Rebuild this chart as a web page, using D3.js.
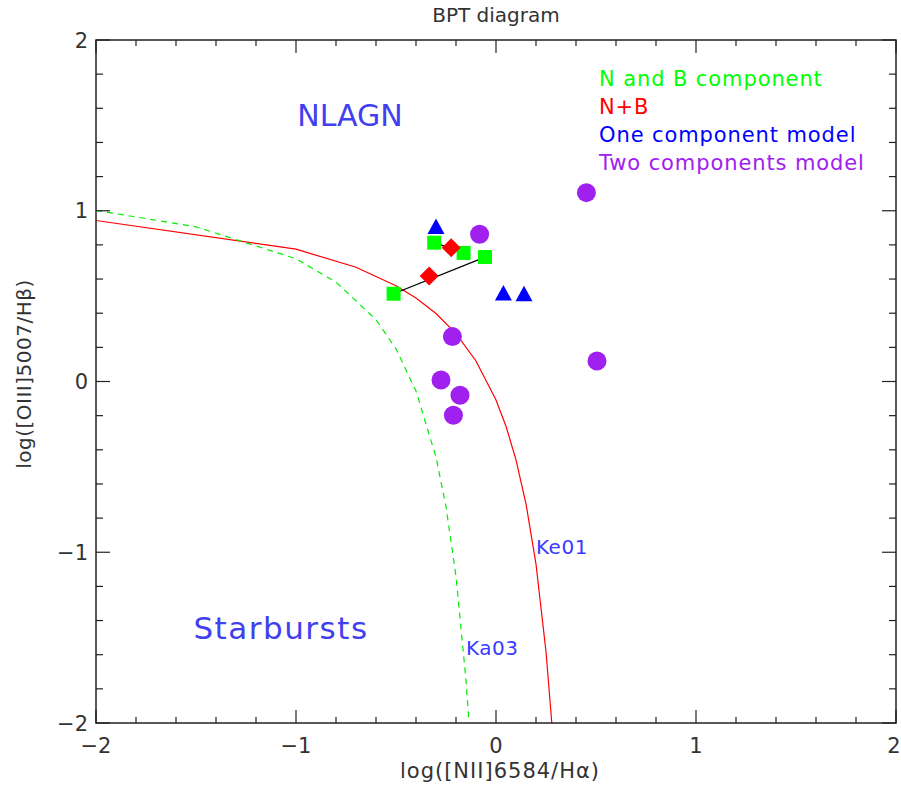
<!DOCTYPE html>
<html>
<head>
<meta charset="utf-8">
<script src="https://cdn.jsdelivr.net/npm/d3@7"></script>
<style>
  body { margin: 0; background: #fff; }
  text { font-family: "DejaVu Sans", sans-serif; }
</style>
</head>
<body>
<svg id="chart" width="901" height="792"></svg>
<script>
// N and B components, one pair per source: [logNII/Ha, logOIII/Hb]
var nbPairs = [
    [[-0.309, 0.813], [-0.162, 0.753]],
    [[-0.512, 0.514], [-0.055, 0.729]]
];
// N+B combined values
var nPlusB = [[-0.224, 0.784], [-0.334, 0.618]];
// one component model
var oneComp = [[-0.300, 0.905], [0.037, 0.516], [0.140, 0.511]];
// two components model
var twoComp = [[-0.082, 0.862], [0.452, 1.106], [0.505, 0.120], [-0.218, 0.263],
               [-0.275, 0.009], [-0.180, -0.081], [-0.213, -0.198]];

// demarcation lines as drawn
var ke01 = [[-2, 0.943], [-1, 0.775], [-0.7, 0.669], [-0.5, 0.561], [-0.4, 0.489],
            [-0.3, 0.398], [-0.2, 0.280], [-0.1, 0.120], [0, -0.108], [0.05, -0.262],
            [0.1, -0.459], [0.15, -0.716], [0.2, -1.069], [0.25, -1.583], [0.279, -2]];
var ka03 = [[-2, 1.002], [-1.5, 0.906], [-1, 0.719], [-0.8, 0.582], [-0.6, 0.362],
            [-0.5, 0.191], [-0.4, -0.056], [-0.3, -0.443], [-0.25, -0.733],
            [-0.2, -1.14], [-0.15, -1.75], [-0.135, -2]];

var xTicks = [-2, -1, 0, 1, 2];
var yTicks = [-2, -1, 0, 1, 2];
var legendLabels = ["N and B component", "N+B", "One component model", "Two components model"];
var legendColors = ["#00ff00", "#ff0000", "#0000ff", "#a020f0"];

var svg = d3.select("#chart"),
    plotLeft = 96, plotRight = 896, plotTop = 40, plotBottom = 723;

var x = d3.scaleLinear().domain([-2, 2]).range([plotLeft, plotRight]);
var y = d3.scaleLinear().domain([-2, 2]).range([plotBottom, plotTop]);

var minorX = d3.range(-2, 2.001, 0.2), minorY = d3.range(-2, 2.001, 0.2);

// clip for curves
svg.append("clipPath").attr("id", "clip")
    .append("rect").attr("x", plotLeft).attr("y", plotTop)
    .attr("width", plotRight - plotLeft).attr("height", plotBottom - plotTop);

var line = d3.line()
    .x(function (d) { return x(d[0]); })
    .y(function (d) { return y(d[1]); });

svg.append("path")
    .datum(ke01)
    .attr("clip-path", "url(#clip)")
    .attr("d", line)
    .attr("fill", "none")
    .attr("stroke", "#ff0000")
    .attr("stroke-width", 1.2);

svg.append("path")
    .datum(ka03)
    .attr("clip-path", "url(#clip)")
    .attr("d", line)
    .attr("fill", "none")
    .attr("stroke", "#00ee00")
    .attr("stroke-width", 1.2)
    .attr("stroke-dasharray", "6,5");

// frame and ticks
var axisColor = "#222";
svg.append("rect")
    .attr("x", plotLeft).attr("y", plotTop)
    .attr("width", plotRight - plotLeft).attr("height", plotBottom - plotTop)
    .attr("fill", "none").attr("stroke", axisColor).attr("stroke-width", 1.5);

var tickG = svg.append("g").attr("stroke", axisColor).attr("stroke-width", 1.2);
minorX.forEach(function (v) {
    var major = xTicks.some(function (t) { return Math.abs(t - v) < 1e-6; });
    var len = major ? 13 : 6;
    tickG.append("line").attr("x1", x(v)).attr("x2", x(v)).attr("y1", plotBottom).attr("y2", plotBottom - len);
    tickG.append("line").attr("x1", x(v)).attr("x2", x(v)).attr("y1", plotTop).attr("y2", plotTop + len);
});
minorY.forEach(function (v) {
    var major = yTicks.some(function (t) { return Math.abs(t - v) < 1e-6; });
    var len = major ? 14 : 7;
    tickG.append("line").attr("y1", y(v)).attr("y2", y(v)).attr("x1", plotLeft).attr("x2", plotLeft + len);
    tickG.append("line").attr("y1", y(v)).attr("y2", y(v)).attr("x1", plotRight).attr("x2", plotRight - len);
});

function fmt(v) { return v < 0 ? "\u2212" + Math.abs(v) : String(v); }

svg.append("g").selectAll("text")
    .data(xTicks).enter().append("text")
    .attr("x", function (d) { return d === 2 ? x(d) - 2 : x(d); })
    .attr("y", 753)
    .attr("text-anchor", "middle")
    .attr("font-size", 21)
    .attr("fill", "#333")
    .text(fmt);

svg.append("g").selectAll("text")
    .data(yTicks).enter().append("text")
    .attr("x", 88)
    .attr("y", function (d) { return y(d); })
    .attr("dy", "0.36em")
    .attr("text-anchor", "end")
    .attr("font-size", 21)
    .attr("fill", "#333")
    .text(fmt);

// axis titles
svg.append("text")
    .attr("x", 500).attr("y", 778)
    .attr("text-anchor", "middle")
    .attr("font-size", 21)
    .attr("letter-spacing", 1)
    .attr("fill", "#333")
    .text("log([NII]6584/H\u03b1)");

svg.append("text")
    .attr("transform", "translate(31,374)rotate(-90)")
    .attr("text-anchor", "middle")
    .attr("font-size", 20)
    .attr("letter-spacing", 0.5)
    .attr("fill", "#333")
    .text("log([OIII]5007/H\u03b2)");

svg.append("text")
    .attr("x", 496).attr("y", 22)
    .attr("text-anchor", "middle")
    .attr("font-size", 20)
    .attr("fill", "#333")
    .text("BPT diagram");

// region labels
svg.append("text").attr("x", 350).attr("y", 126).attr("text-anchor", "middle")
    .attr("font-size", 30).attr("fill", "#4040f0").text("NLAGN");
svg.append("text").attr("x", 281).attr("y", 639).attr("text-anchor", "middle")
    .attr("font-size", 31).attr("letter-spacing", 1.5).attr("fill", "#4040f0").text("Starbursts");
svg.append("text").attr("x", 536).attr("y", 554)
    .attr("font-size", 20).attr("letter-spacing", 0.5).attr("fill", "#3a3aff").text("Ke01");
svg.append("text").attr("x", 466).attr("y", 655)
    .attr("font-size", 20).attr("letter-spacing", 0.5).attr("fill", "#3a3aff").text("Ka03");

// connecting lines between N and B components
svg.append("g").selectAll("line")
    .data(nbPairs).enter().append("line")
    .attr("x1", function (d) { return x(d[0][0]); })
    .attr("y1", function (d) { return y(d[0][1]); })
    .attr("x2", function (d) { return x(d[1][0]); })
    .attr("y2", function (d) { return y(d[1][1]); })
    .attr("stroke", "#000")
    .attr("stroke-width", 1.3);

// N and B squares
var nbPoints = [].concat.apply([], nbPairs);
svg.append("g").selectAll("rect")
    .data(nbPoints).enter().append("rect")
    .attr("x", function (d) { return x(d[0]) - 7; })
    .attr("y", function (d) { return y(d[1]) - 7; })
    .attr("width", 14).attr("height", 14)
    .attr("fill", "#00ff00");

// N+B diamonds
svg.append("g").selectAll("path")
    .data(nPlusB).enter().append("path")
    .attr("d", "M0,-9.5L9.5,0L0,9.5L-9.5,0Z")
    .attr("transform", function (d) { return "translate(" + x(d[0]) + "," + y(d[1]) + ")"; })
    .attr("fill", "#ff0000");

// one component triangles
svg.append("g").selectAll("path")
    .data(oneComp).enter().append("path")
    .attr("d", "M0,-8.5L8.5,7L-8.5,7Z")
    .attr("transform", function (d) { return "translate(" + x(d[0]) + "," + y(d[1]) + ")"; })
    .attr("fill", "#0000ff");

// two components circles
svg.append("g").selectAll("circle")
    .data(twoComp).enter().append("circle")
    .attr("cx", function (d) { return x(d[0]); })
    .attr("cy", function (d) { return y(d[1]); })
    .attr("r", 9.5)
    .attr("fill", "#a020f0");

// legend
svg.append("g").selectAll("text")
    .data(legendLabels).enter().append("text")
    .attr("x", 599)
    .attr("y", function (d, i) { return 86 + i * 28; })
    .attr("font-size", 21)
    .attr("letter-spacing", 0.9)
    .attr("fill", function (d, i) { return legendColors[i]; })
    .text(function (d) { return d; });
</script>
</body>
</html>
